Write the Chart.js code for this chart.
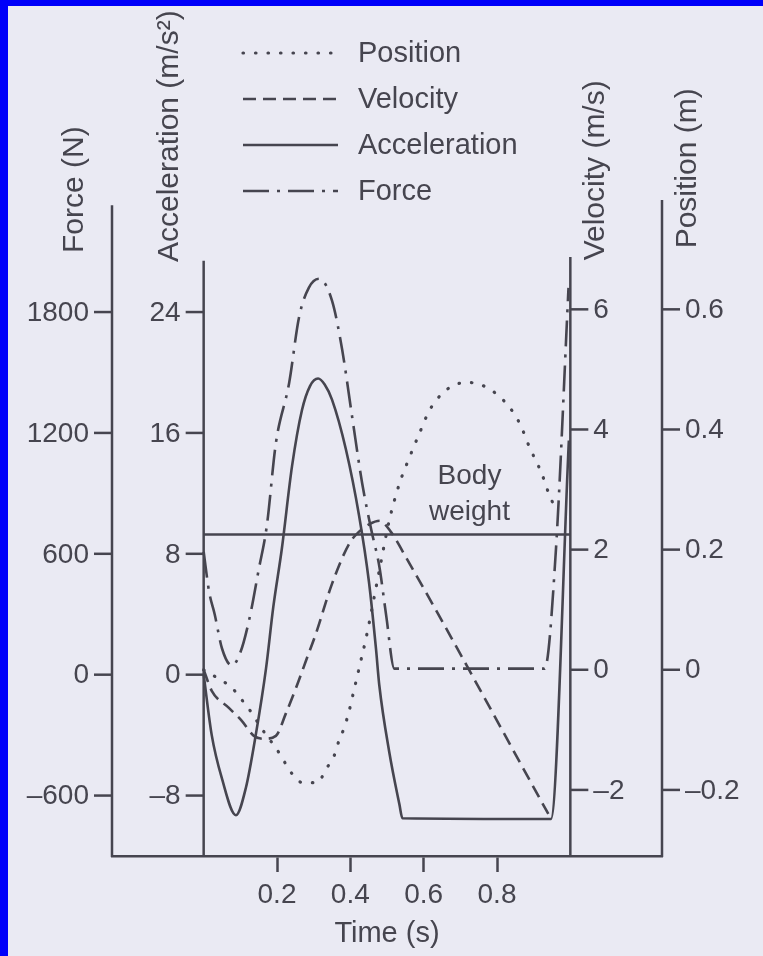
<!DOCTYPE html>
<html>
<head>
<meta charset="utf-8">
<script src="https://cdn.jsdelivr.net/npm/chart.js@4.4.0/dist/chart.umd.min.js"></script>
<style>
  html, body { margin: 0; padding: 0; background: #0000fa; }
  #frame { position: absolute; left: 8px; top: 6px; width: 755px; height: 950px; background: #eaeaf3; }
  canvas { display: block; }
</style>
</head>
<body>
<div id="frame"><canvas id="motionChart" width="755" height="950"></canvas></div>
<script>
// readings taken off the figure, time in seconds
const positionTime = [0, 0.041, 0.077, 0.104, 0.129, 0.15, 0.172, 0.197, 0.219, 0.241, 0.27, 0.31, 0.334, 0.356, 0.369, 0.383, 0.397, 0.405, 0.416, 0.424, 0.443, 0.479, 0.506, 0.534, 0.561, 0.588, 0.616, 0.651, 0.698, 0.725, 0.772, 0.826, 0.862, 0.889, 0.906, 0.922, 0.936, 0.952];
const positionValues = [0, -0.015, -0.03, -0.05, -0.07, -0.09, -0.11, -0.13, -0.152, -0.173, -0.188, -0.188, -0.165, -0.143, -0.118, -0.097, -0.068, -0.047, -0.018, 0.003, 0.053, 0.165, 0.248, 0.31, 0.353, 0.393, 0.432, 0.46, 0.477, 0.478, 0.47, 0.443, 0.41, 0.37, 0.348, 0.327, 0.302, 0.278];

const velocityTime = [0, 0.022, 0.068, 0.104, 0.137, 0.164, 0.197, 0.224, 0.252, 0.279, 0.306, 0.35, 0.397, 0.424, 0.451, 0.48, 0.51, 0.552, 0.94];
const velocityValues = [0, -0.35, -0.63, -0.85, -1.1, -1.15, -1.1, -0.73, -0.3, 0.15, 0.6, 1.43, 2.1, 2.3, 2.42, 2.48, 2.3, 1.87, -2.4];

const accelTime = [0, 0.022, 0.049, 0.088, 0.115, 0.142, 0.17, 0.19, 0.213, 0.241, 0.268, 0.29, 0.312, 0.33, 0.35, 0.388, 0.424, 0.451, 0.47, 0.479, 0.506, 0.534, 0.542, 0.947, 0.996];
const accelValues = [0, -4.0, -6.8, -9.3, -7.5, -4.0, 0.4, 4.5, 8.3, 13.8, 17.5, 19.1, 19.6, 19.2, 18.2, 14.9, 10.5, 6.1, 1.7, -0.7, -5.1, -8.6, -9.5, -9.55, 15.5];

const forceTime = [0, 0.015, 0.03, 0.05, 0.077, 0.1, 0.125, 0.15, 0.172, 0.197, 0.233, 0.26, 0.287, 0.315, 0.35, 0.378, 0.405, 0.432, 0.457, 0.479, 0.498, 0.52, 0.93, 0.96, 0.995];
const forceValues = [610, 410, 300, 130, 45, 110, 280, 520, 736, 1150, 1447, 1773, 1921, 1965, 1857, 1610, 1279, 953, 720, 538, 291, 30, 30, 600, 1920];

const bodyWeightTime = [0, 1.0];
const bodyWeightValues = [696, 696];

const timeTicks = [0.2, 0.4, 0.6, 0.8];
const forceTicks = [-600, 0, 600, 1200, 1800];
const accelTicks = [-8, 0, 8, 16, 24];
const velocityTicks = [-2, 0, 2, 4, 6];
const positionTicks = [-0.2, 0, 0.2, 0.4, 0.6];

const legendLabels = ['Position', 'Velocity', 'Acceleration', 'Force'];

const ink = '#46454f';
const fontFamily = '"Liberation Sans", Arial, sans-serif';

function toPoints(xs, ys) {
    return xs.map((x, i) => ({ x: x, y: ys[i] }));
}

function fmt(v) {
    return (v < 0 ? '\u2013' : '') + Math.abs(v);
}

function fixedTicks(values) {
    return function (scale) {
        scale.ticks = values.map(v => ({ value: v }));
    };
}

// the four vertical axes sit at different places, so they are drawn here from their scales
const axisSpecs = [
    { id: 'force', at: 'left', side: 'left', end: 2330, title: 'Force (N)', titleDx: -37, titleLift: 59 },
    { id: 'acc', at: 0, side: 'left', end: 27.4, title: 'Acceleration (m/s\u00b2)', titleDx: -34, titleLift: 50 },
    { id: 'vel', at: 1.0, side: 'right', end: 6.87, title: 'Velocity (m/s)', titleDx: 25, titleLift: 49 },
    { id: 'pos', at: 'right', side: 'right', end: 0.782, title: 'Position (m)', titleDx: 26, titleLift: 61 }
];

const offsetAxes = {
    id: 'offsetAxes',
    afterDraw(chart) {
        const { ctx, chartArea, scales } = chart;
        ctx.save();
        ctx.strokeStyle = ink;
        ctx.fillStyle = ink;
        ctx.lineWidth = 2.5;
        ctx.lineCap = 'butt';

        axisSpecs.forEach(spec => {
            const scale = scales[spec.id];
            let lineX;
            if (spec.at === 'left') lineX = chartArea.left;
            else if (spec.at === 'right') lineX = chartArea.right;
            else lineX = scales.x.getPixelForValue(spec.at);
            const dir = spec.side === 'left' ? -1 : 1;

            ctx.beginPath();
            ctx.moveTo(lineX, scale.getPixelForValue(spec.end));
            ctx.lineTo(lineX, chartArea.bottom + 1);
            ctx.stroke();

            ctx.font = '28px ' + fontFamily;
            ctx.textBaseline = 'middle';
            ctx.textAlign = spec.side === 'left' ? 'right' : 'left';
            scale.ticks.forEach(t => {
                const y = scale.getPixelForValue(t.value);
                ctx.beginPath();
                ctx.moveTo(lineX, y);
                ctx.lineTo(lineX + dir * 18, y);
                ctx.stroke();
                ctx.fillText(fmt(t.value), lineX + dir * 23, y + 1);
            });

            const topTick = scale.getPixelForValue(scale.ticks[scale.ticks.length - 1].value);
            ctx.save();
            ctx.translate(lineX + spec.titleDx, topTick - spec.titleLift);
            ctx.rotate(-Math.PI / 2);
            ctx.textAlign = 'left';
            ctx.font = '30px ' + fontFamily;
            ctx.fillText(spec.title, 0, 0);
            ctx.restore();
        });

        // legend
        ctx.font = '29px ' + fontFamily;
        ctx.textAlign = 'left';
        ctx.textBaseline = 'middle';
        legendLabels.forEach((label, i) => {
            const ds = chart.data.datasets.find(d => d.label === label);
            const y = chartArea.top + 23 + i * 46;
            ctx.save();
            ctx.lineWidth = ds.borderWidth;
            ctx.lineCap = ds.borderCapStyle || 'butt';
            ctx.setLineDash(ds.borderDash || []);
            ctx.beginPath();
            ctx.moveTo(chartArea.left + 131, y);
            ctx.lineTo(chartArea.left + 226, y);
            ctx.stroke();
            ctx.restore();
            ctx.fillText(label, chartArea.left + 246, y + 1);
        });

        // body weight note
        const bwY = scales.force.getPixelForValue(bodyWeightValues[0]);
        const bwX = scales.x.getPixelForValue(0.725);
        ctx.font = '28px ' + fontFamily;
        ctx.textAlign = 'center';
        ctx.textBaseline = 'alphabetic';
        ctx.fillText('Body', bwX, bwY - 50);
        ctx.fillText('weight', bwX, bwY - 14);

        ctx.restore();
    }
};

const ctx = document.getElementById('motionChart').getContext('2d');

new Chart(ctx, {
    type: 'line',
    data: {
        datasets: [
            {
                label: 'Position',
                data: toPoints(positionTime, positionValues),
                yAxisID: 'pos',
                borderColor: ink,
                borderWidth: 3.2,
                borderDash: [0.5, 12],
                borderCapStyle: 'round',
                cubicInterpolationMode: 'monotone'
            },
            {
                label: 'Velocity',
                data: toPoints(velocityTime, velocityValues),
                yAxisID: 'vel',
                borderColor: ink,
                borderWidth: 2.6,
                borderDash: [13, 7],
                cubicInterpolationMode: 'monotone'
            },
            {
                label: 'Acceleration',
                data: toPoints(accelTime, accelValues),
                yAxisID: 'acc',
                borderColor: ink,
                borderWidth: 2.6,
                cubicInterpolationMode: 'monotone'
            },
            {
                label: 'Force',
                data: toPoints(forceTime, forceValues),
                yAxisID: 'force',
                borderColor: ink,
                borderWidth: 2.6,
                borderDash: [26, 8, 3, 8],
                cubicInterpolationMode: 'monotone'
            },
            {
                label: 'Body weight',
                data: toPoints(bodyWeightTime, bodyWeightValues),
                yAxisID: 'force',
                borderColor: ink,
                borderWidth: 2.5
            }
        ]
    },
    options: {
        responsive: false,
        animation: false,
        events: [],
        elements: { point: { radius: 0 } },
        layout: { padding: { left: 104, right: 101, top: 24, bottom: 0 } },
        plugins: {
            legend: { display: false },
            tooltip: { enabled: false }
        },
        scales: {
            x: {
                type: 'linear',
                position: 'bottom',
                min: -0.25,
                max: 1.25,
                afterBuildTicks: fixedTicks(timeTicks),
                afterFit: scale => { scale.height = 100; },
                grid: { drawOnChartArea: false, drawTicks: true, tickLength: 16, tickWidth: 2.5, tickColor: ink },
                border: { display: true, color: ink, width: 2.5 },
                ticks: { color: ink, font: { family: fontFamily, size: 28 }, padding: 6, callback: v => fmt(v), autoSkip: false, maxRotation: 0 },
                title: { display: true, text: 'Time (s)', color: ink, font: { family: fontFamily, size: 29 }, padding: { top: 0, bottom: 5 } }
            },
            force: { type: 'linear', position: 'left', display: false, min: -900, max: 3200, afterBuildTicks: fixedTicks(forceTicks) },
            acc: { type: 'linear', position: 'left', display: false, min: -12, max: 3200 / 75, afterBuildTicks: fixedTicks(accelTicks) },
            vel: { type: 'linear', position: 'right', display: false, min: -3.1, max: 10.65, afterBuildTicks: fixedTicks(velocityTicks) },
            pos: { type: 'linear', position: 'right', display: false, min: -0.31, max: 1.065, afterBuildTicks: fixedTicks(positionTicks) }
        }
    },
    plugins: [offsetAxes]
});
</script>
</body>
</html>
